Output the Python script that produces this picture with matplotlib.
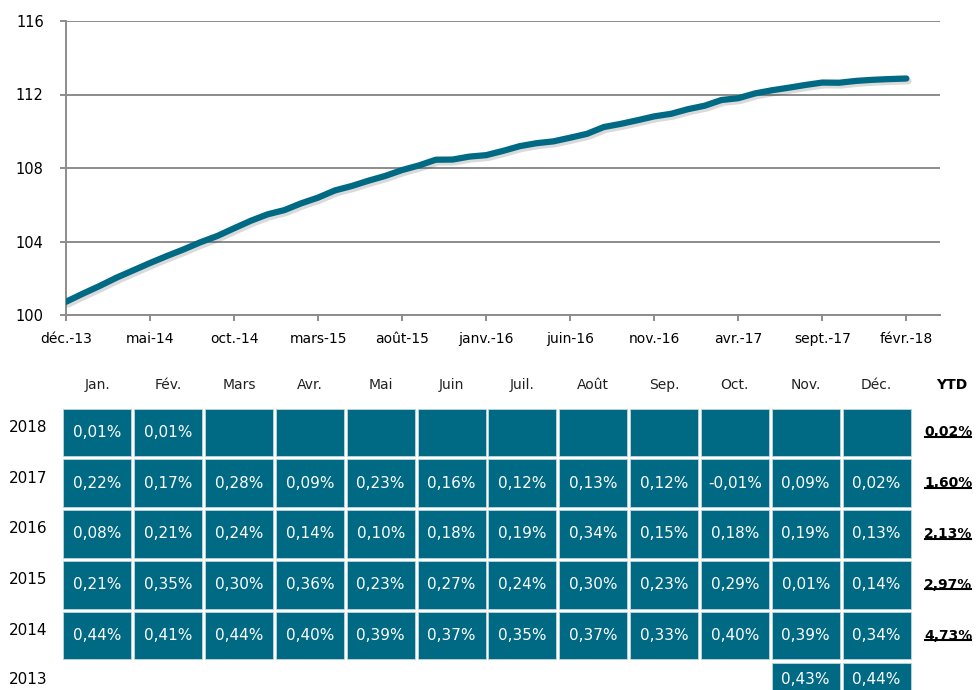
import matplotlib.pyplot as plt
import matplotlib.patheffects as pe
from matplotlib.patches import Rectangle
from matplotlib.lines import Line2D

plt.rcParams['font.family'] = ['DejaVu Sans', 'Noto Sans']

# indice mensuel de déc.-13 à févr.-18
index_values = [100.72,
                101.16, 101.58, 102.03, 102.43, 102.83, 103.21,
                103.57, 103.96, 104.30, 104.72, 105.13, 105.48,
                105.71, 106.08, 106.39, 106.78, 107.02, 107.31,
                107.57, 107.89, 108.14, 108.45, 108.46, 108.62,
                108.70, 108.93, 109.19, 109.35, 109.45, 109.65,
                109.86, 110.23, 110.40, 110.60, 110.81, 110.95,
                111.20, 111.39, 111.70, 111.80, 112.06, 112.23,
                112.37, 112.52, 112.65, 112.64, 112.74, 112.80,
                112.84, 112.87]
tick_labels = ['déc.-13', 'mai-14', 'oct.-14', 'mars-15', 'août-15', 'janv.-16',
               'juin-16', 'nov.-16', 'avr.-17', 'sept.-17', 'févr.-18']
y_ticks = [100, 104, 108, 112, 116]

month_names = ['Jan.', 'Fév.', 'Mars', 'Avr.', 'Mai', 'Juin',
               'Juil.', 'Août', 'Sep.', 'Oct.', 'Nov.', 'Déc.']
years = [2018, 2017, 2016, 2015, 2014, 2013]
perf_2018 = [0.01, 0.01, None, None, None, None, None, None, None, None, None, None]
perf_2017 = [0.22, 0.17, 0.28, 0.09, 0.23, 0.16, 0.12, 0.13, 0.12, -0.01, 0.09, 0.02]
perf_2016 = [0.08, 0.21, 0.24, 0.14, 0.10, 0.18, 0.19, 0.34, 0.15, 0.18, 0.19, 0.13]
perf_2015 = [0.21, 0.35, 0.30, 0.36, 0.23, 0.27, 0.24, 0.30, 0.23, 0.29, 0.01, 0.14]
perf_2014 = [0.44, 0.41, 0.44, 0.40, 0.39, 0.37, 0.35, 0.37, 0.33, 0.40, 0.39, 0.34]
perf_2013 = [None, None, None, None, None, None, None, None, None, None, 0.43, 0.44]
ytd = [0.02, 1.60, 2.13, 2.97, 4.73, None]

teal = '#006a84'
grid_grey = '#8c8c8c'


def fmt(v):
    return f"{v:.2f}".replace('.', ',') + '%'


fig = plt.figure(figsize=(9.77, 6.9), dpi=100)

# --- courbe ---
ax = fig.add_axes([66 / 977, 1 - 315 / 690, 874 / 977, 294 / 690])
x = list(range(len(index_values)))
ax.plot(x, index_values, color=teal, lw=4.5, solid_capstyle='round',
        path_effects=[pe.SimpleLineShadow(offset=(1.5, -2), alpha=0.18, shadow_color='#333333'),
                      pe.Normal()], zorder=3)
ax.set_xlim(0, 52)
ax.set_ylim(100, 116)
ax.set_yticks(y_ticks)
ax.set_xticks(range(0, len(index_values), 5))
ax.set_xticklabels(tick_labels)
ax.grid(axis='y', color=grid_grey, lw=1.4)
ax.set_axisbelow(True)
for s in ['top', 'right']:
    ax.spines[s].set_visible(False)
for s in ['left', 'bottom']:
    ax.spines[s].set_color(grid_grey)
    ax.spines[s].set_linewidth(1.4)
ax.tick_params(axis='y', length=4, width=1.4, color=grid_grey, labelsize=10.5, pad=12)
ax.tick_params(axis='x', length=4, width=1.4, color=grid_grey, labelsize=10, pad=8)

# --- tableau ---
tb = fig.add_axes([0, 0, 1, (690 - 335) / 690])
tb.set_xlim(-62 / 70.83, (977 - 62) / 70.83)
tb.set_ylim((690 - 407) / 50.8, (335 - 407) / 50.8)
tb.axis('off')

rows = [perf_2018, perf_2017, perf_2016, perf_2015, perf_2014, perf_2013]
for c, name in enumerate(month_names):
    tb.text(c + 0.5, -0.43, name, ha='center', va='center', fontsize=10, color='#222222')
tb.text(12.567, -0.43, 'YTD', ha='center', va='center', fontsize=10, fontweight='bold')

underlined = []
for r, (year, vals) in enumerate(zip(years, rows)):
    last = r == len(years) - 1
    yoff = 0.36 if last else 0.5
    tb.text(-0.2, r + (yoff if last else yoff - 0.1), str(year),
            ha='right', va='center', fontsize=11)
    for c, v in enumerate(vals):
        if v is None and r != 0:
            continue
        tb.add_patch(Rectangle((c + 0.02, r + 0.03), 0.96, 0.94, facecolor=teal,
                               edgecolor='#bcd6dd', lw=0.6, clip_on=False))
        if v is not None:
            tb.text(c + 0.5, r + yoff, fmt(v), ha='center', va='center',
                    fontsize=11, color='white')
    if ytd[r] is not None:
        t = tb.text(12.17, r + 0.5, fmt(ytd[r]), ha='left', va='center',
                    fontsize=10, fontweight='bold')
        underlined.append(t)

fig.canvas.draw()
renderer = fig.canvas.get_renderer()
inv = tb.transData.inverted()
for t in underlined:
    bb = t.get_window_extent(renderer)
    (x0, y0), (x1, _) = inv.transform([(bb.x0 + 1, bb.y0 + 2.5), (bb.x1 - 1, bb.y0 + 2.5)])
    tb.add_line(Line2D([x0, x1], [y0, y0], color='black', lw=1.5, clip_on=False))

fig.savefig('out.png', dpi=100)
